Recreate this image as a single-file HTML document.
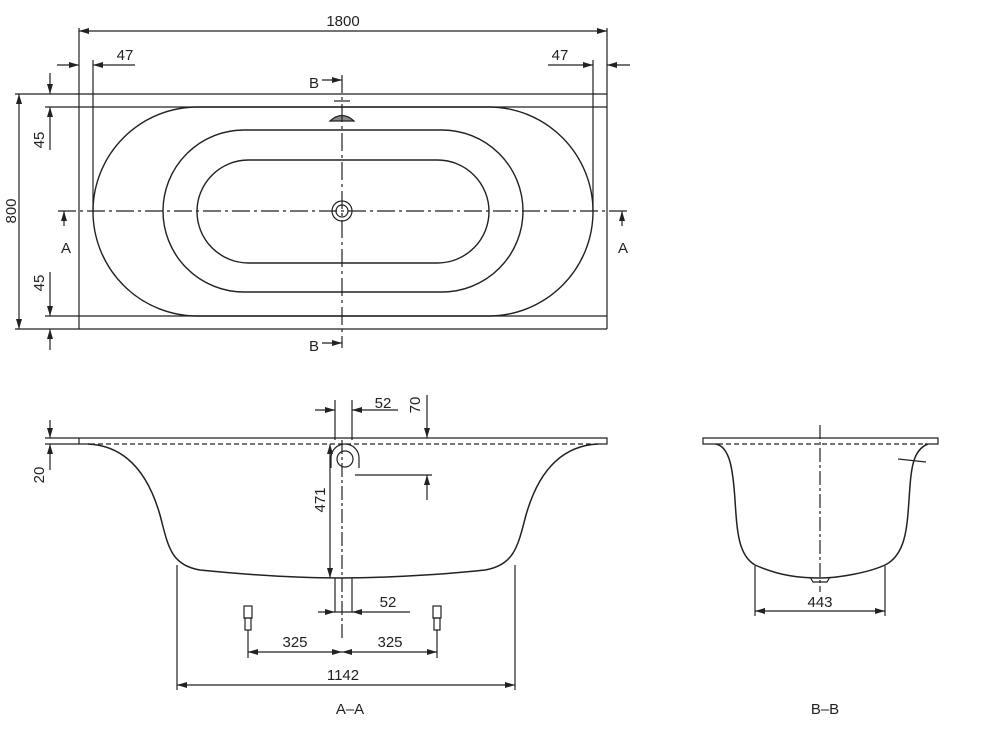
<!DOCTYPE html>
<html><head><style>body{margin:0;background:#fff}svg{display:block}text{font-family:"Liberation Sans",sans-serif;font-size:15px;fill:#222}</style></head><body>
<svg width="1000" height="743" viewBox="0 0 1000 743" xmlns="http://www.w3.org/2000/svg">
<defs><marker id="a" viewBox="0 0 10 6" refX="10" refY="3" markerWidth="10" markerHeight="6" orient="auto-start-reverse" markerUnits="userSpaceOnUse"><path d="M0,0L10,3L0,6z" fill="#222"/></marker></defs>
<g stroke="#222" stroke-width="1.2" fill="none">
<line x1="79" y1="28" x2="79" y2="329"/><line x1="607" y1="28" x2="607" y2="329"/>
<line x1="93" y1="60" x2="93" y2="211"/><line x1="593" y1="60" x2="593" y2="211"/>
<line x1="15" y1="94" x2="607" y2="94"/><line x1="45" y1="107" x2="607" y2="107"/>
<line x1="45" y1="316" x2="607" y2="316"/><line x1="15" y1="329" x2="607" y2="329"/>
<rect x="93" y="107" width="500" height="209" rx="104.5" ry="104.5" stroke-width="1.4"/>
<rect x="163" y="130" width="360" height="162" rx="81" ry="81" stroke-width="1.4"/>
<rect x="197" y="160" width="292" height="103" rx="51.5" ry="51.5" stroke-width="1.4"/>
<circle cx="342" cy="211" r="10"/><circle cx="342" cy="211" r="6"/>
<path d="M330 121 Q342 110 354 121 Z" fill="#888"/><line x1="334" y1="101" x2="350" y2="101"/>
<line x1="58" y1="211" x2="630" y2="211" stroke-dasharray="18,4,3,4"/>
<line x1="342" y1="75" x2="342" y2="348" stroke-dasharray="18,4,3,4"/>
<line x1="79" y1="31" x2="607" y2="31" marker-start="url(#a)" marker-end="url(#a)"/>
<line x1="57" y1="65" x2="79" y2="65" marker-end="url(#a)"/><line x1="135" y1="65" x2="93" y2="65" marker-end="url(#a)"/>
<line x1="630" y1="65" x2="607" y2="65" marker-end="url(#a)"/><line x1="548" y1="65" x2="593" y2="65" marker-end="url(#a)"/>
<line x1="19" y1="94" x2="19" y2="329" marker-start="url(#a)" marker-end="url(#a)"/>
<line x1="50" y1="73" x2="50" y2="94" marker-end="url(#a)"/><line x1="50" y1="150" x2="50" y2="107" marker-end="url(#a)"/>
<line x1="50" y1="272" x2="50" y2="316" marker-end="url(#a)"/><line x1="50" y1="350" x2="50" y2="329" marker-end="url(#a)"/>
<line x1="64" y1="226" x2="64" y2="211" marker-end="url(#a)"/><line x1="622" y1="226" x2="622" y2="211" marker-end="url(#a)"/>
<line x1="322" y1="80" x2="342" y2="80" marker-end="url(#a)"/><line x1="322" y1="343" x2="342" y2="343" marker-end="url(#a)"/>
<path d="M79 438 H607 V444 H595 M79 438 V444 H90"/>
<line x1="90" y1="444" x2="595" y2="444" stroke-dasharray="5,3"/>
<path d="M88 444 C130 446 150 480 160 515 C168 545 170 565 200 570 C260 576 310 578 340 578 C370 578 430 576 485 570 C515 565 518 545 526 515 C536 480 556 446 598 444" stroke-width="1.5"/>
<path d="M335 578 V612 H352 V578"/>
<circle cx="345" cy="459" r="8"/><path d="M331 468 V458 A14 14 0 0 1 359 458 V468"/>
<line x1="342" y1="440" x2="342" y2="640" stroke-dasharray="14,3,3,3"/>
<line x1="45" y1="438" x2="79" y2="438"/><line x1="45" y1="444" x2="79" y2="444"/>
<line x1="50" y1="420" x2="50" y2="438" marker-end="url(#a)"/><line x1="50" y1="470" x2="50" y2="444" marker-end="url(#a)"/>
<line x1="335" y1="400" x2="335" y2="440"/><line x1="352" y1="400" x2="352" y2="440"/>
<line x1="315" y1="410" x2="335" y2="410" marker-end="url(#a)"/><line x1="398" y1="410" x2="352" y2="410" marker-end="url(#a)"/>
<line x1="427" y1="395" x2="427" y2="438" marker-end="url(#a)"/><line x1="427" y1="500" x2="427" y2="475" marker-end="url(#a)"/>
<line x1="355" y1="475" x2="432" y2="475"/>
<line x1="330" y1="444" x2="330" y2="578" marker-start="url(#a)" marker-end="url(#a)"/>
<line x1="318" y1="612" x2="335" y2="612" marker-end="url(#a)"/><line x1="410" y1="612" x2="352" y2="612" marker-end="url(#a)"/>
<line x1="248" y1="630" x2="248" y2="658"/><line x1="437" y1="630" x2="437" y2="658"/>
<line x1="248" y1="652" x2="342" y2="652" marker-start="url(#a)" marker-end="url(#a)"/>
<line x1="342" y1="652" x2="437" y2="652" marker-start="url(#a)" marker-end="url(#a)"/>
<rect x="244" y="606" width="8" height="12"/><rect x="245" y="618" width="6" height="12"/>
<rect x="433" y="606" width="8" height="12"/><rect x="434" y="618" width="6" height="12"/>
<line x1="177" y1="565" x2="177" y2="690"/><line x1="515" y1="565" x2="515" y2="690"/>
<line x1="177" y1="685" x2="515" y2="685" marker-start="url(#a)" marker-end="url(#a)"/>
<path d="M718 444 H703 V438 H938 V444 H925"/>
<line x1="718" y1="444" x2="925" y2="444" stroke-dasharray="5,3"/>
<path d="M716 444 C730 447 733 470 735 500 C737 530 738 555 755 565 C780 576 800 578 820 578 C840 578 870 572 885 565 C905 555 907 530 909 500 C911 470 912 450 928 444" stroke-width="1.5"/>
<path d="M810 577 L813 582 H827 L830 577"/>
<line x1="898" y1="459" x2="926" y2="462"/>
<line x1="820" y1="425" x2="820" y2="592" stroke-dasharray="14,3,3,3"/>
<line x1="755" y1="566" x2="755" y2="616"/><line x1="885" y1="566" x2="885" y2="616"/>
<line x1="755" y1="611" x2="885" y2="611" marker-start="url(#a)" marker-end="url(#a)"/>
</g>
<text x="343" y="26" text-anchor="middle">1800</text>
<text x="125" y="60" text-anchor="middle">47</text><text x="560" y="60" text-anchor="middle">47</text>
<text transform="translate(16,211) rotate(-90)" text-anchor="middle">800</text>
<text transform="translate(44,140) rotate(-90)" text-anchor="middle">45</text>
<text transform="translate(44,283) rotate(-90)" text-anchor="middle">45</text>
<text x="66" y="253" text-anchor="middle" font-size="16">A</text><text x="623" y="253" text-anchor="middle" font-size="16">A</text>
<text x="314" y="88" text-anchor="middle" font-size="16">B</text><text x="314" y="351" text-anchor="middle" font-size="16">B</text>
<text transform="translate(44,475) rotate(-90)" text-anchor="middle">20</text>
<text x="383" y="408" text-anchor="middle">52</text>
<text transform="translate(420,405) rotate(-90)" text-anchor="middle">70</text>
<text transform="translate(325,500) rotate(-90)" text-anchor="middle">471</text>
<text x="388" y="607" text-anchor="middle">52</text>
<text x="295" y="647" text-anchor="middle">325</text><text x="390" y="647" text-anchor="middle">325</text>
<text x="343" y="680" text-anchor="middle">1142</text>
<text x="350" y="714" text-anchor="middle" font-size="17">A–A</text>
<text x="820" y="607" text-anchor="middle">443</text>
<text x="825" y="714" text-anchor="middle" font-size="17">B–B</text>
</svg>
</body></html>
